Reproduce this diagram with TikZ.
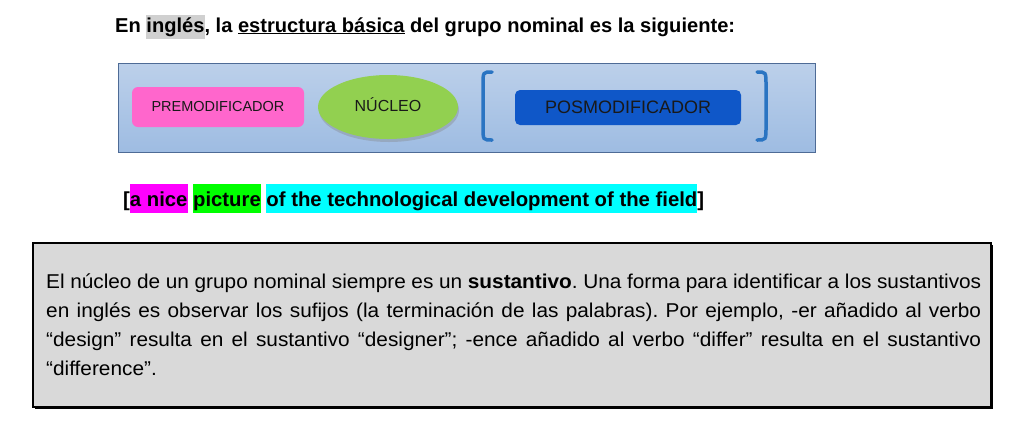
\documentclass[tikz,border=0pt]{standalone}
\usepackage{fontspec}
\setmainfont{Liberation Sans}
\usepackage{xcolor}
\usepackage{tikz}
\usetikzlibrary{shapes,shadows}
\usetikzlibrary{calc,positioning}

\definecolor{bannertop}{HTML}{BCD0EA}
\definecolor{bannerbot}{HTML}{9EBCE2}
\definecolor{bannerline}{HTML}{4E6B96}
\definecolor{premodpink}{HTML}{FF66CC}
\definecolor{nucgreen}{HTML}{92D050}
\definecolor{posblue}{HTML}{0F57C8}
\definecolor{bracketblue}{HTML}{2A74C2}
\definecolor{notegrey}{HTML}{D9D9D9}
\definecolor{hlgrey}{HTML}{D0D0D0}
\definecolor{hlmagenta}{HTML}{FF00FF}
\definecolor{hlgreen}{HTML}{00FF00}
\definecolor{hlcyan}{HTML}{00FFFF}

\setlength{\fboxsep}{0pt}
\frenchspacing
\newcommand{\hlbox}[2]{\colorbox{#1}{\rule[-7pt]{0pt}{29pt}#2}}

\begin{document}
\begin{tikzpicture}[x=1pt,y=-1pt,inner sep=0pt]
    \tikzstyle{banner}=[rectangle, draw=bannerline, line width=1pt, top color=bannertop, bottom color=bannerbot]
    \tikzstyle{premod}=[rectangle, rounded corners=6pt, fill=premodpink, text=black!90, font=\fontsize{14.5}{17}\selectfont]
    \tikzstyle{nucleus}=[ellipse, fill=nucgreen, text=black!90, drop shadow={shadow xshift=1pt, shadow yshift=-3pt, opacity=0.35}, font=\fontsize{16}{18}\selectfont]
    \tikzstyle{posmod}=[rectangle, rounded corners=5pt, fill=posblue, text=black!90, font=\fontsize{18}{21}\selectfont]
    \tikzstyle{bracket}=[draw=bracketblue, line width=3.5pt, line cap=round]
    \tikzstyle{notebox}=[rectangle, draw=black, line width=1.5pt, fill=notegrey, drop shadow={shadow xshift=2pt, shadow yshift=-2pt, opacity=1, fill=black}]

    \fill[white] (0,0) rectangle (1024,424);
    \useasboundingbox (0,0) rectangle (1024,424);

    % heading
    \node[anchor=base west] (title) at (115,32) {\fontsize{20.1}{24}\selectfont\bfseries En \colorbox{hlgrey}{\strut ingl\'es}, la \underline{estructura b\'asica} del grupo nominal es la siguiente:};

    % structure of the noun group
    \node[banner, minimum width=697pt, minimum height=89pt] (banner) at (466.5,107.5) {};
    \node[premod, minimum width=172pt, minimum height=40pt] (pre) at (218,107) {PREMODIFICADOR};
    \node[nucleus, minimum width=140pt, minimum height=64pt] (nuc) at (388,107) {\raisebox{5pt}{NÚCLEO}};
    \node[posmod, minimum width=226pt, minimum height=35pt] (post) at (628,107.5) {POSMODIFICADOR};

    \draw[bracket] (492,72) .. controls (483,72) .. (483,85) -- (483,127) .. controls (483,140) .. (492,140);
    \draw[bracket] (757,72) .. controls (766,72) .. (766,85) -- (766,127) .. controls (766,140) .. (757,140);

    % example
    \node[anchor=base west] (example) at (123,206) {\fontsize{20.3}{24}\selectfont\bfseries [\hlbox{hlmagenta}{a nice} \hlbox{hlgreen}{picture} \hlbox{hlcyan}{of the technological development of the field}]};

    % note
    \node[notebox, anchor=north west, minimum width=958pt, minimum height=164pt] (note) at (32,242) {};
    \node[anchor=north west, text width=935pt, align=justify, font=\fontsize{20}{29}\selectfont\addfontfeatures{FakeStretch=1.04}] (notetext) at (46,274) {El núcleo de un grupo nominal siempre es un \textbf{sustantivo}. Una forma para identificar a los sustantivos\linebreak en inglés es observar los sufijos (la terminación de las palabras). Por ejemplo, -er añadido al verbo\linebreak “design” resulta en el sustantivo “designer”; -ence añadido al verbo “differ” resulta en el sustantivo\linebreak “difference”.};
\end{tikzpicture}
\end{document}
